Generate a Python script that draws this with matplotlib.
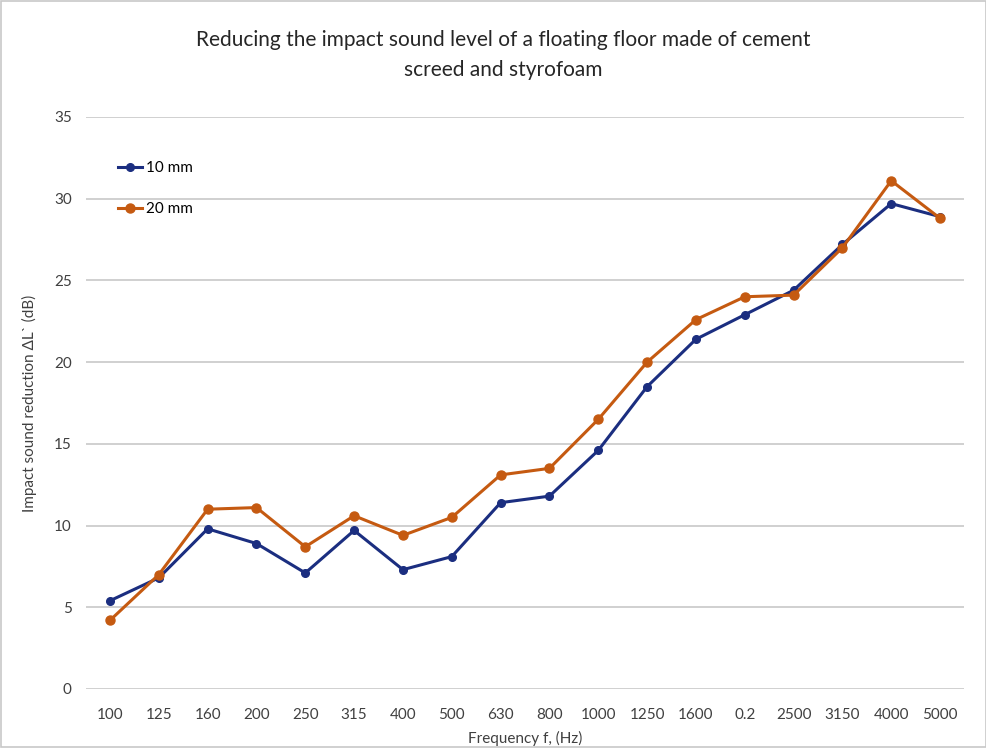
import matplotlib
matplotlib.use("Agg")
import matplotlib.pyplot as plt
from matplotlib.patches import Rectangle

plt.rcParams['font.family'] = ['Lato', 'DejaVu Sans']

categories = ["100", "125", "160", "200", "250", "315", "400", "500", "630", "800",
              "1000", "1250", "1600", "0.2", "2500", "3150", "4000", "5000"]
mm10 = [5.4, 6.8, 9.8, 8.9, 7.1, 9.7, 7.3, 8.1, 11.4, 11.8, 14.6, 18.5, 21.4, 22.9, 24.4, 27.2, 29.7, 28.9]
mm20 = [4.2, 7.0, 11.0, 11.1, 8.7, 10.6, 9.4, 10.5, 13.1, 13.5, 16.5, 20.0, 22.6, 24.0, 24.1, 27.0, 31.1, 28.8]
yticks = [0, 5, 10, 15, 20, 25, 30, 35]

fig = plt.figure(figsize=(9.87, 7.48), dpi=100)
ax = fig.add_axes([0.0867, 0.0789, 0.8905, 0.7647])

x = list(range(len(categories)))
ax.plot(x, mm10, color="#1B2E80", lw=2.2, marker="o", ms=5.5, label="10 mm", zorder=3)
ax.plot(x, mm20, color="#C55A11", lw=2.2, marker="o", ms=6.5, label="20 mm", zorder=3)

ax.set_xlim(-0.5, len(categories) - 0.5)
ax.set_ylim(0, 35)
ax.set_yticks(yticks)
ax.set_xticks(x)
ax.set_xticklabels(categories)
ax.yaxis.grid(True, color="#C8C8C8", lw=1.2)
ax.set_axisbelow(True)
for s in ax.spines.values():
    s.set_visible(False)
ax.tick_params(axis="both", length=0, labelsize=11, colors="#404040")
ax.tick_params(axis="x", pad=14)
ax.tick_params(axis="y", pad=10)

ax.set_xlabel("Frequency f, (Hz)", fontsize=11, color="#404040", labelpad=6)
ax.set_ylabel("Impact sound reduction ΔL` (dB)", fontsize=11, color="#404040", labelpad=12)

ax.legend(loc="upper left", bbox_to_anchor=(0.03, 0.933), frameon=False, fontsize=11,
          handlelength=1.6, handletextpad=0.2, labelspacing=1.75, borderaxespad=0)

fig.text(0.51, 0.926, "Reducing the impact sound level of a floating floor made of cement\nscreed and styrofoam",
         ha="center", va="center", fontsize=15.0, color="#262626", linespacing=1.62)

fig.patches.append(Rectangle((0.001, 0.001), 0.998, 0.998, transform=fig.transFigure,
                             fill=False, edgecolor="#C8C8C8", lw=1.2))

fig.savefig("out.png", dpi=100)
